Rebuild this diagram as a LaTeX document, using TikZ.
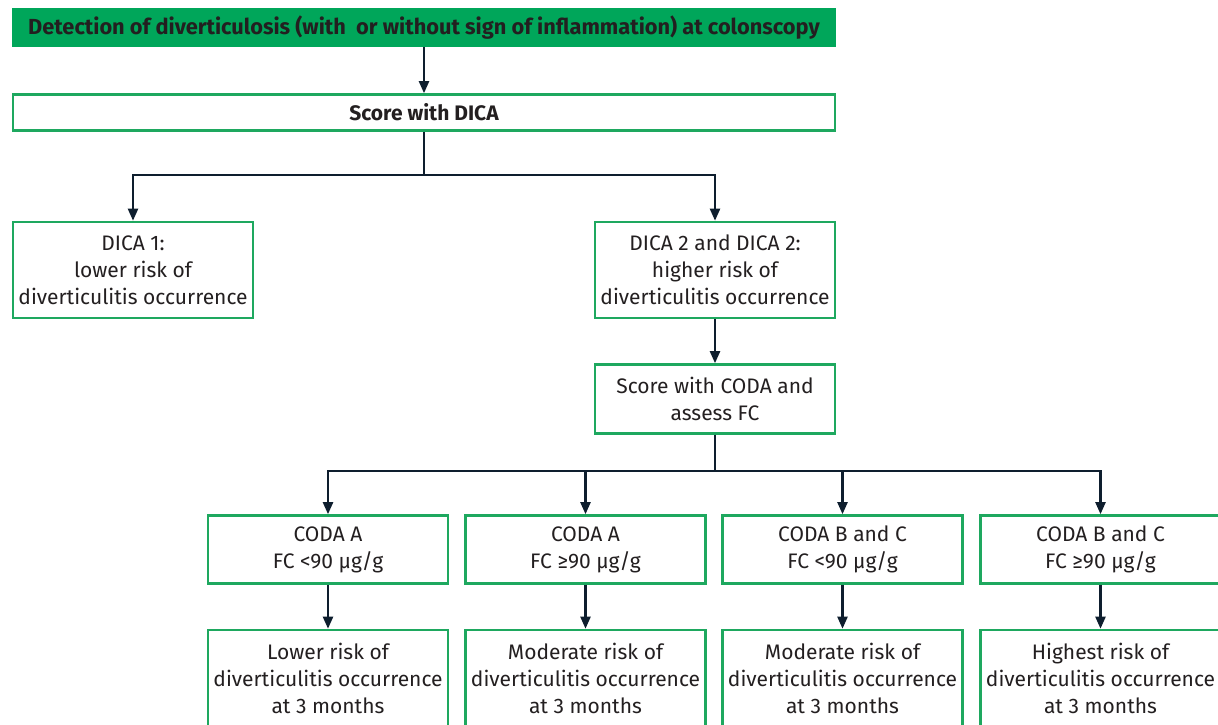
\documentclass[tikz,border=0pt]{standalone}
\usepackage{fontspec}
\setmainfont{Fira Sans}
\usetikzlibrary{arrows.meta}

\definecolor{boxgreen}{HTML}{1EA85F}
\definecolor{bargreen}{HTML}{00A65A}
\definecolor{arrowblue}{HTML}{0E1E2E}
\definecolor{textgray}{HTML}{231F20}

\tikzset{
  stepbox/.style={draw=boxgreen, line width=2.6pt, fill=white, inner sep=0pt,
    minimum width=240pt, minimum height=96pt, align=center, text=textgray,
    font=\fontsize{21}{27}\selectfont},
  widebox/.style={stepbox, minimum width=822pt, minimum height=36pt,
    font=\bfseries\fontsize{21}{27}\selectfont},
  link/.style={draw=arrowblue, line width=2.2pt},
  arr/.style={link, -{Triangle[length=12pt,width=10pt]}},
}

\begin{document}
\begin{tikzpicture}[x=1pt,y=-1pt]
  \useasboundingbox (0,0) rectangle (1218,725);
  \clip (0,0) rectangle (1218,725);

  % top of the chart
  \node[widebox, fill=bargreen, draw=bargreen, font=\bfseries\fontsize{21.8}{27}\selectfont]
    (detect) at (424,27.5) {Detection of diverticulosis (with\ \ or without sign of inflammation) at colonscopy};
  \node[widebox] (dica) at (424,112.5) {Score with DICA};

  % DICA classes
  \node[stepbox] (dicaone) at (133,270) {DICA 1:\\lower risk of\\diverticulitis occurrence};
  \node[stepbox] (dicatwo) at (715,270) {DICA 2 and DICA 2:\\higher risk of\\diverticulitis occurrence};
  \node[stepbox, minimum height=69pt] (coda) at (715,399) {Score with CODA and\\assess FC};

  % CODA classes
  \node[stepbox, minimum height=68pt] (ca1) at (328,549.5) {CODA A\\FC <90 µg/g};
  \node[stepbox, minimum height=68pt] (ca2) at (585.5,549.5) {CODA A\\FC ≥90 µg/g};
  \node[stepbox, minimum height=68pt] (cb1) at (842.5,549.5) {CODA B and C\\FC <90 µg/g};
  \node[stepbox, minimum height=68pt] (cb2) at (1100.5,549.5) {CODA B and C\\FC ≥90 µg/g};

  % outcomes
  \node[stepbox] (r1) at (328,678) {Lower risk of\\diverticulitis occurrence\\at 3 months};
  \node[stepbox] (r2) at (585.5,678) {Moderate risk of\\diverticulitis occurrence\\at 3 months};
  \node[stepbox] (r3) at (842.5,678) {Moderate risk of\\diverticulitis occurrence\\at 3 months};
  \node[stepbox] (r4) at (1100.5,678) {Highest risk of\\diverticulitis occurrence\\at 3 months};

  % connectors
  \draw[arr] (detect) -- (dica);
  \draw[arr] (dica.south) -- ++(0,43) -| (dicaone.north);
  \draw[arr] (dica.south) -- ++(0,43) -| (dicatwo.north);
  \draw[arr] (dicatwo) -- (coda);
  \foreach \n in {ca1,ca2,cb1,cb2}
    \draw[arr] (coda.south) -- ++(0,36) -| (\n.north);
  \draw[arr] (ca1) -- (r1);
  \draw[arr] (ca2) -- (r2);
  \draw[arr] (cb1) -- (r3);
  \draw[arr] (cb2) -- (r4);
\end{tikzpicture}
\end{document}
